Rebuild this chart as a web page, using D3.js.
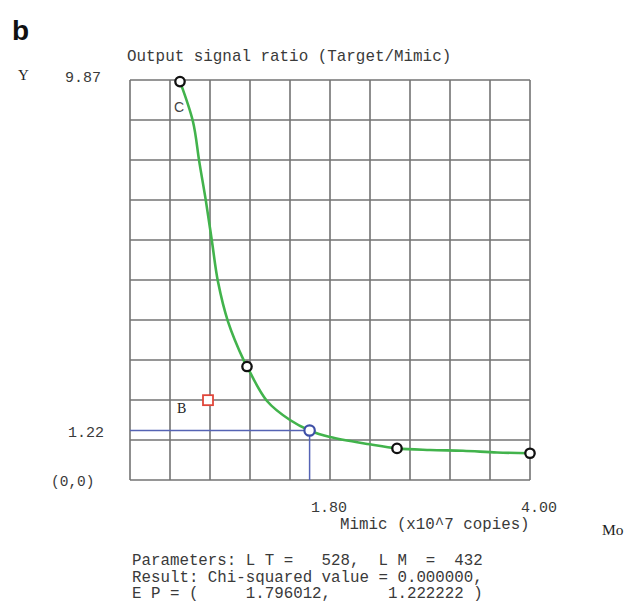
<!DOCTYPE html>
<html>
<head>
<meta charset="utf-8">
<script src="https://cdn.jsdelivr.net/npm/d3@7"></script>
<style>
  html, body { margin: 0; padding: 0; background: #fff; }
  svg { display: block; }
  .mono { font-family: "Liberation Mono", "Courier New", monospace; fill: #3a3a3a; }
  .serif { font-family: "Liberation Serif", "Times New Roman", serif; fill: #222; }
</style>
</head>
<body>
<svg id="chart" width="625" height="603"></svg>
<script>
// ---- data ----
const curveX = [0.50, 0.63, 0.693, 0.76, 0.82, 0.88, 0.98, 1.14, 1.17, 1.37, 1.60, 1.796, 2.00, 2.40, 2.67, 3.00, 3.33, 3.67, 4.00];
const curveY = [9.83, 8.84, 7.85, 6.87, 5.88, 4.89, 3.91, 2.94, 2.80, 1.95, 1.48, 1.222, 1.06, 0.88, 0.78, 0.74, 0.72, 0.68, 0.66];
const pointX = [0.50, 1.17, 2.67, 4.00];
const pointY = [9.83, 2.80, 0.78, 0.66];
const epX = [1.796];
const epY = [1.222];
const bX = [0.78];
const bY = [1.97];
const xDomain = [0, 4.00];
const yDomain = [0, 9.87];
const xTickValues = [1.80, 4.00];
const xTickLabels = ["1.80", "4.00"];
const yTickValues = [9.87, 1.22];
const yTickLabels = ["9.87", "1.22"];
const gridCount = 10;
const infoLines = [
  "Parameters: L T =   528,  L M  =  432",
  "Result: Chi-squared value = 0.000000,",
  "E P = (     1.796012,      1.222222 )"
];

// ---- layout ----
const svg = d3.select("#chart");
const L = 130, R = 530, T = 80, B = 480;
const x = d3.scaleLinear().domain(xDomain).range([L, R]);
const y = d3.scaleLinear().domain(yDomain).range([B, T]);

// grid
const gx = d3.range(gridCount + 1).map(i => xDomain[0] + (xDomain[1] - xDomain[0]) * i / gridCount);
const gy = d3.range(gridCount + 1).map(i => yDomain[0] + (yDomain[1] - yDomain[0]) * i / gridCount);
const grid = svg.append("g").attr("stroke", "#737373").attr("stroke-width", 1.6).attr("fill", "none");
grid.selectAll("line.v").data(gx).join("line").attr("class", "v")
  .attr("x1", d => x(d)).attr("x2", d => x(d)).attr("y1", T).attr("y2", B);
grid.selectAll("line.h").data(gy).join("line").attr("class", "h")
  .attr("y1", d => y(d)).attr("y2", d => y(d)).attr("x1", L).attr("x2", R);

// blue guide lines to EP
svg.append("g").attr("stroke", "#5563b4").attr("stroke-width", 1.5)
  .selectAll("line").data(epX).join("line")
  .attr("x1", x(xDomain[0])).attr("x2", d => x(d))
  .attr("y1", (d, i) => y(epY[i])).attr("y2", (d, i) => y(epY[i]));
svg.append("g").attr("stroke", "#5563b4").attr("stroke-width", 1.5)
  .selectAll("line").data(epX).join("line")
  .attr("x1", d => x(d)).attr("x2", d => x(d))
  .attr("y1", (d, i) => y(epY[i])).attr("y2", y(yDomain[0]));

// curve
const curveData = curveX.map((d, i) => [d, curveY[i]]);
svg.append("path").datum(curveData)
  .attr("fill", "none").attr("stroke", "#42b34c").attr("stroke-width", 2.6)
  .attr("stroke-linejoin", "round").attr("stroke-linecap", "round")
  .attr("d", d3.line().x(d => x(d[0])).y(d => y(d[1])).curve(d3.curveCatmullRom.alpha(0.5)));

// black markers
svg.append("g").selectAll("circle").data(pointX).join("circle")
  .attr("cx", d => x(d)).attr("cy", (d, i) => y(pointY[i])).attr("r", 4.7)
  .attr("fill", "#fff").attr("stroke", "#111").attr("stroke-width", 2.3);

// EP marker (blue)
svg.append("g").selectAll("circle").data(epX).join("circle")
  .attr("cx", d => x(d)).attr("cy", (d, i) => y(epY[i])).attr("r", 5.2)
  .attr("fill", "#fff").attr("stroke", "#3d4fa6").attr("stroke-width", 2.2);

// B marker (red square)
svg.append("g").selectAll("rect").data(bX).join("rect")
  .attr("x", d => x(d) - 5).attr("y", (d, i) => y(bY[i]) - 5)
  .attr("width", 10).attr("height", 10)
  .attr("fill", "#fff").attr("stroke", "#e0463a").attr("stroke-width", 1.8);

// point labels
svg.append("text").attr("x", x(pointX[0]) - 6).attr("y", 112)
  .attr("font-family", "Liberation Sans, Arial, sans-serif").attr("font-size", 14).attr("fill", "#444").text("C");
svg.append("text").attr("class", "serif").attr("x", x(bX[0]) - 31).attr("y", 413)
  .attr("font-size", 14).text("B");

// axis labels
const yDy = [2, 6];
const yRight = [101, 104];
svg.append("g").selectAll("text").data(yTickValues).join("text")
  .attr("class", "mono").attr("font-size", 15)
  .attr("text-anchor", "end").attr("x", (d, i) => yRight[i])
  .attr("y", (d, i) => y(d) + yDy[i]).text((d, i) => yTickLabels[i]);
svg.append("text").attr("class", "mono").attr("font-size", 14.5)
  .attr("x", 51).attr("y", 486).text("(0,0)");
const xDx = [1, -9];
svg.append("g").selectAll("text").data(xTickValues).join("text")
  .attr("class", "mono").attr("font-size", 15)
  .attr("x", (d, i) => x(d) + xDx[i]).attr("y", 512).text((d, i) => xTickLabels[i]);

svg.append("text").attr("class", "mono").attr("font-size", 15.8)
  .attr("x", 340).attr("y", 529).text("Mimic (x10^7 copies)");
svg.append("text").attr("class", "mono").attr("font-size", 15.9)
  .attr("x", 127).attr("y", 61).text("Output signal ratio (Target/Mimic)");

svg.append("text").attr("class", "serif").attr("font-size", 15)
  .attr("x", 18).attr("y", 80).text("Y");
svg.append("text").attr("class", "serif").attr("font-size", 15.5)
  .attr("x", 602).attr("y", 535).text("Mo");

// panel letter
svg.append("text").attr("x", 12).attr("y", 40)
  .attr("font-family", "Liberation Sans, Arial, sans-serif").attr("font-weight", "bold")
  .attr("font-size", 28).attr("fill", "#111").text("b");

// parameter block
svg.append("g").selectAll("text").data(infoLines).join("text")
  .attr("class", "mono").attr("font-size", 15.8)
  .attr("x", 132).attr("y", (d, i) => 565 + i * 16.5)
  .attr("xml:space", "preserve").style("white-space", "pre")
  .text(d => d);
</script>
</body>
</html>
